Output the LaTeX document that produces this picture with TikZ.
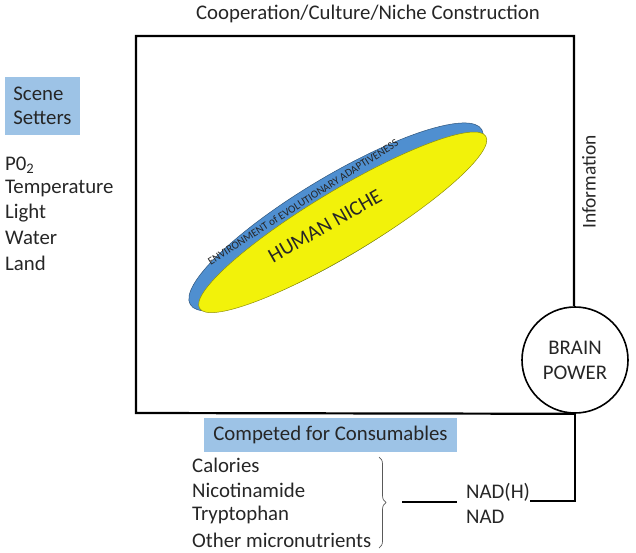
\documentclass[tikz,border=0pt]{standalone}
\usepackage{fontspec}
\setmainfont{Carlito}
\usetikzlibrary{decorations.pathreplacing,calc}
\definecolor{lblue}{HTML}{9DC3E6}
\definecolor{eeablue}{HTML}{4F8FD0}
\definecolor{hnyellow}{HTML}{F2F20A}
\definecolor{txt}{HTML}{262626}
\tikzset{
  lbl/.style={inner sep=0pt, text=txt, font=\fontsize{20.8}{24}\selectfont},
  listtxt/.style={lbl, anchor=west, align=left},
  tagbox/.style={fill=lblue, inner sep=0pt, text=txt, font=\fontsize{20.8}{24}\selectfont},
  frame/.style={line width=2.2pt},
  thinline/.style={line width=1.6pt},
}
\begin{document}
\begin{tikzpicture}[x=1pt,y=-1pt]
\useasboundingbox (0,0) rectangle (636,553);
% ellipses
\begin{scope}[shift={(336,217)},rotate=31]
  \draw[fill=eeablue, draw=eeablue!60!black, line width=0.5pt] (0,0) ellipse (170 and 40);
  \draw[fill=hnyellow, draw=hnyellow!60!black, line width=0.5pt] (3,8) ellipse (167 and 32);
\end{scope}
\node[lbl, font=\fontsize{11}{12}\selectfont, rotate=32.5] (eea) at (303,202) {ENVIRONMENT of EVOLUTIONARY ADAPTIVENESS};
\node[lbl, rotate=29.7] (hn) at (325,226) {HUMAN NICHE};
% frame
\coordinate (tl) at (136,36);
\coordinate (tr) at (574,36);
\coordinate (bl) at (136,413);
\node[draw, circle, line width=1.6pt, minimum size=106pt, inner sep=0pt, align=center, text=txt, font=\fontsize{20.8}{25}\selectfont] (brain) at (575,360) {BRAIN\\POWER};
\draw[frame] (brain.south) -- (bl) -- (tl) -- (tr) -- (tr |- brain.north);
% title and labels
\node[lbl] (title) at (368,14) {Cooperation/Culture/Niche Construction};
\node[lbl, rotate=90, font=\fontsize{19.5}{22}\selectfont] (info) at (589,182) {Information};
\node[tagbox, minimum width=75pt, minimum height=58pt, align=left] (scene) at (42.5,106) {Scene\\Setters};
\node[listtxt] (po2) at (5,165) {P0\textsubscript{2}};
\node[listtxt] (temp) at (5,189) {Temperature};
\node[listtxt] (light) at (5,213) {Light};
\node[listtxt] (water) at (5,238) {Water};
\node[listtxt] (land) at (5,263) {Land};
\node[tagbox, minimum width=253pt, minimum height=34pt] (comp) at (330.5,435) {Competed for Consumables};
\node[listtxt] (cal) at (192,465) {Calories};
\node[listtxt] (nic) at (192,490) {Nicotinamide};
\node[listtxt] (tryp) at (192,515) {Tryptophan};
\node[listtxt] (other) at (192,540) {Other micronutrients};
\node[listtxt] (nadh) at (466,492) {NAD(H)};
\node[listtxt] (nad) at (466,517) {NAD};
% brace
\draw[gray!70!black, line width=0.7pt, decorate, decoration={brace, amplitude=7pt}] (379,457) -- (379,548) node[midway] (bracetip) {};
\coordinate (dashstart) at (402,502);
\coordinate (dashend) at (457,502);
\coordinate (corner) at (575,501);
\draw[thinline] (dashstart) -- (dashend);
\draw[frame] (brain.south) -- (corner) -- (nadh.east |- corner);
\end{tikzpicture}
\end{document}
